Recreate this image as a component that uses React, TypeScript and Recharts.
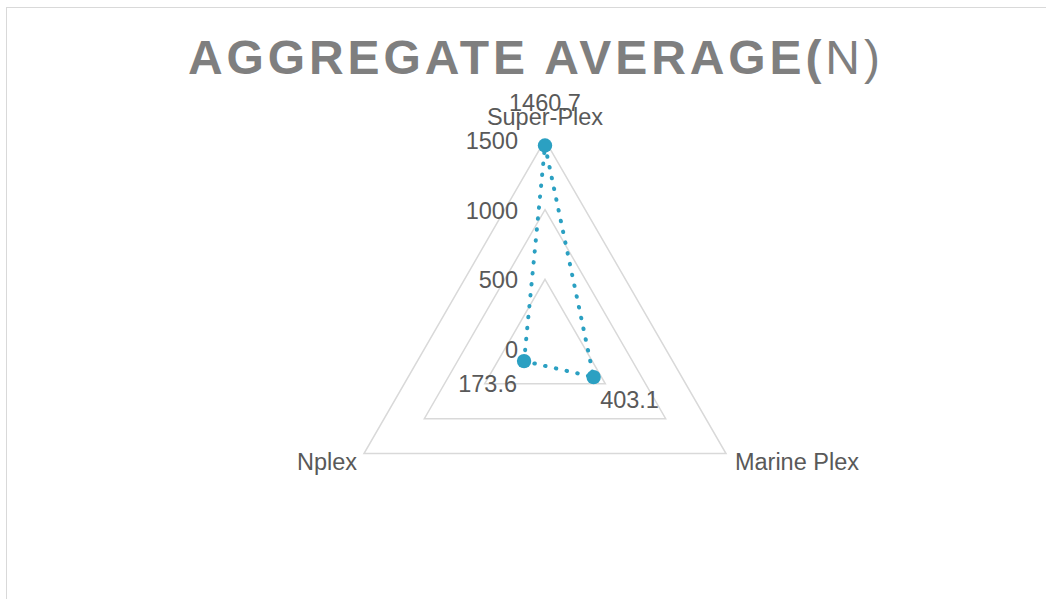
import React from 'react';
import { RadarChart, Radar, PolarGrid, PolarAngleAxis, PolarRadiusAxis, LabelList } from 'recharts';

const categories = ['Super-Plex', 'Marine Plex', 'Nplex'];
const values = [1460.7, 403.1, 173.6];
const radiusTicks = [0, 500, 1000, 1500];

const data = categories.map((c, i) => ({ name: c, value: values[i] }));

const FONT = '"Liberation Sans", Arial, sans-serif';
const SERIES = '#2BA0C2';
const TEXT = '#595959';
const GRID = '#D9D9D9';

const CX = 545;
const CY = 349;
const R = 209;

const AngleTick = (props: any) => {
  const { x, y, payload } = props;
  const name = payload.value;
  let anchor: 'start' | 'middle' | 'end' = 'middle';
  let dx = 0;
  let dy = 0;
  if (name === 'Super-Plex') { anchor = 'middle'; dy = -7; }
  else if (name === 'Nplex') { anchor = 'end'; dx = 0; dy = 12; }
  else { anchor = 'start'; dx = 2; dy = 12; }
  return (
    <text x={x + dx} y={y + dy} textAnchor={anchor} fill={TEXT} fontSize={23.5} fontFamily={FONT}>
      {name}
    </text>
  );
};

const RadiusTick = (props: any) => {
  const { x, y, payload } = props;
  return (
    <text x={x - 27} y={y + 9} textAnchor="end" fill={TEXT} fontSize={23.5} fontFamily={FONT}>
      {payload.value}
    </text>
  );
};

const labelOffsets = [
  { dx: 0, dy: -34, anchor: 'middle' },
  { dx: 6.5, dy: 30.5, anchor: 'start' },
  { dx: -7, dy: 30.5, anchor: 'end' },
];

const DataLabel = (props: any) => {
  const { x, y, value, index } = props;
  const o = labelOffsets[index] || labelOffsets[0];
  return (
    <text x={x + o.dx} y={y + o.dy} textAnchor={o.anchor as any} fill={TEXT} fontSize={23.5} fontFamily={FONT}>
      {value}
    </text>
  );
};

const Marker = (props: any) => {
  const { cx, cy, index } = props;
  if (cx == null || cy == null) return null;
  return <circle key={`dot-${index}`} cx={cx} cy={cy} r={7.2} fill={SERIES} stroke="none" />;
};

export default function App() {
  return (
    <div style={{ position: 'absolute', left: 0, top: 0, width: 1046, height: 599, overflow: 'hidden', background: '#fff' }}>
      <div
        style={{
          position: 'absolute',
          left: 6,
          top: 7,
          width: 1060,
          height: 620,
          borderTop: `1.5px solid ${GRID}`,
          borderLeft: `1.5px solid ${GRID}`,
          boxSizing: 'border-box',
        }}
      />
      <div style={{ position: 'absolute', left: 0, top: 0 }}>
        <RadarChart width={1046} height={599} data={data} cx={CX} cy={CY} outerRadius={R} startAngle={90} endAngle={-270}>
          <text x={188} y={74} fill="#7F7F7F" fontSize={48} fontFamily={FONT} style={{ letterSpacing: 3.9 }}>
            <tspan fontWeight="bold">AGGREGATE AVERAGE(</tspan>
            <tspan fontWeight="normal">N)</tspan>
          </text>
          <PolarGrid gridType="polygon" radialLines={false} stroke={GRID} strokeWidth={1.5} polarRadius={[R / 3, (2 * R) / 3, R]} />
          <PolarAngleAxis dataKey="name" tick={<AngleTick />} tickLine={false} axisLine={false} />
          <PolarRadiusAxis
            angle={90}
            domain={[0, 1500]}
            ticks={radiusTicks as any}
            tickCount={4}
            axisLine={false}
            tickLine={false}
            tick={<RadiusTick />}
          />
          <Radar
            dataKey="value"
            stroke={SERIES}
            strokeWidth={4}
            strokeDasharray="0.5 10.5"
            strokeLinecap="round"
            fill="none"
            fillOpacity={0}
            dot={<Marker />}
            isAnimationActive={false}
          >
            <LabelList dataKey="value" content={<DataLabel />} />
          </Radar>
        </RadarChart>
      </div>
    </div>
  );
}
